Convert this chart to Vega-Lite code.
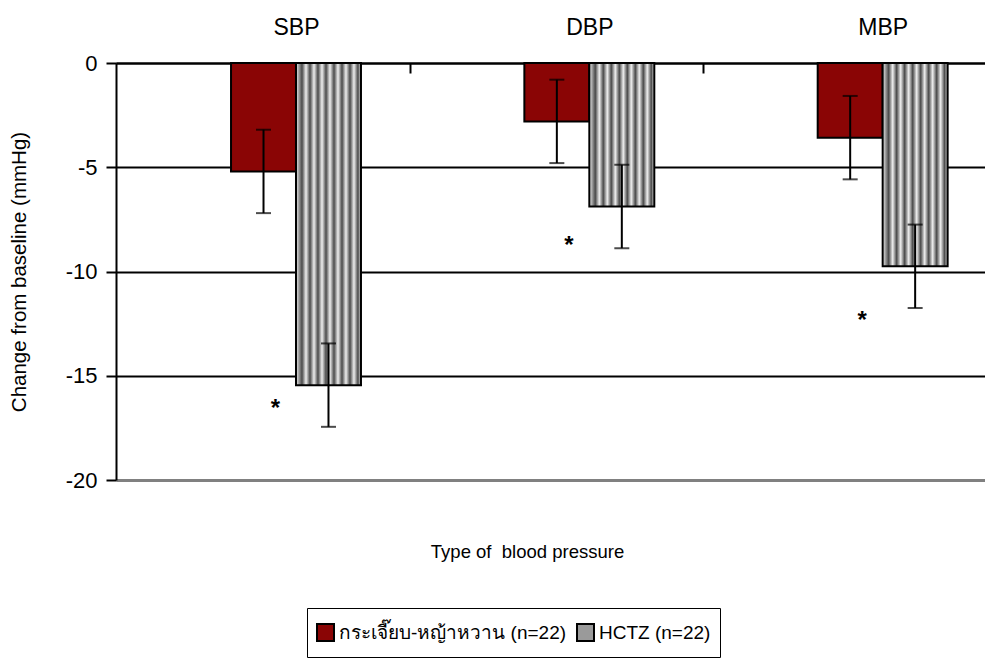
{
  "$schema": "https://vega.github.io/schema/vega-lite/v6.json",
  "width": 869,
  "height": 417,
  "autosize": {"type": "none"},
  "padding": {"left": 116, "top": 63, "right": 0, "bottom": 180},
  "background": "white",
  "config": {"font": "Liberation Sans, sans-serif", "view": {"stroke": null}},
  "datasets": {
    "bars": [
      {"bp": "SBP", "grp": "กระเจี๊ยบ-หญ้าหวาน (n=22)", "mean": -5.2, "lo": -7.2, "hi": -3.2},
      {"bp": "SBP", "grp": "HCTZ (n=22)", "mean": -15.45, "lo": -17.45, "hi": -13.45},
      {"bp": "DBP", "grp": "กระเจี๊ยบ-หญ้าหวาน (n=22)", "mean": -2.8, "lo": -4.8, "hi": -0.8},
      {"bp": "DBP", "grp": "HCTZ (n=22)", "mean": -6.88, "lo": -8.88, "hi": -4.88},
      {"bp": "MBP", "grp": "กระเจี๊ยบ-หญ้าหวาน (n=22)", "mean": -3.58, "lo": -5.58, "hi": -1.58},
      {"bp": "MBP", "grp": "HCTZ (n=22)", "mean": -9.75, "lo": -11.75, "hi": -7.75}
    ],
    "stars": [
      {"bp": "SBP", "grp": "กระเจี๊ยบ-หญ้าหวาน (n=22)", "sy": -16.95},
      {"bp": "DBP", "grp": "กระเจี๊ยบ-หญ้าหวาน (n=22)", "sy": -9.1},
      {"bp": "MBP", "grp": "กระเจี๊ยบ-หญ้าหวาน (n=22)", "sy": -12.7}
    ]
  },
  "encoding": {
    "x": {
      "field": "bp", "type": "nominal", "sort": ["SBP", "DBP", "MBP"],
      "scale": {"range": [0, 880], "paddingInner": 0.557, "paddingOuter": 0.2785, "align": 0.704},
      "axis": {
        "orient": "top", "title": "Type of\u00a0 blood pressure",
        "titleX": 411, "titleY": 488, "titleAlign": "center", "titleBaseline": "middle",
        "titleFontSize": 18.5, "titleFontWeight": "normal", "titleColor": "black",
        "labelAngle": 0, "labelFontSize": 23, "labelColor": "black", "labelPadding": 34,
        "bandPosition": 0, "tickOffset": 179, "labelOffset": -179,
        "domain": true, "domainColor": "black", "domainWidth": 2,
        "ticks": true, "tickSize": -10, "tickColor": "black", "tickWidth": 2
      }
    },
    "xOffset": {
      "field": "grp", "type": "nominal",
      "scale": {"domain": ["กระเจี๊ยบ-หญ้าหวาน (n=22)", "HCTZ (n=22)"], "paddingInner": 0, "paddingOuter": 0}
    }
  },
  "layer": [
    {
      "data": {"name": "bars"},
      "mark": {"type": "bar", "stroke": "black", "strokeWidth": 2},
      "encoding": {
        "y": {
          "field": "mean", "type": "quantitative", "title": "Change from baseline (mmHg)",
          "scale": {"domain": [-20, 0], "nice": false, "zero": true},
          "axis": {
            "values": [0, -5, -10, -15, -20],
            "labelExpr": "'' + datum.value",
            "titleFontSize": 20.5, "titleFontWeight": "normal", "titleColor": "black", "titlePadding": 36,
            "labelFontSize": 22, "labelColor": "black", "labelPadding": 9,
            "grid": true,
            "gridColor": {"condition": {"test": "datum.value === -20", "value": "#808080"}, "value": "black"},
            "gridWidth": {"condition": {"test": "datum.value === -20", "value": 3}, "value": 2},
            "domainColor": "black", "domainWidth": 2,
            "tickColor": "black", "tickWidth": 2, "tickSize": 10
          }
        },
        "fill": {
          "field": "grp", "type": "nominal",
          "condition": {
            "test": "datum.grp === 'HCTZ (n=22)'",
            "value": {
              "gradient": "linear", "x1": 0, "y1": 0, "x2": 1, "y2": 0,
              "stops": [
                {"offset": 0, "color": "#eeeeee"},
                {"offset": 0.092, "color": "#4a4a4a"},
                {"offset": 0.154, "color": "#eeeeee"},
                {"offset": 0.215, "color": "#4a4a4a"},
                {"offset": 0.277, "color": "#eeeeee"},
                {"offset": 0.338, "color": "#4a4a4a"},
                {"offset": 0.4, "color": "#eeeeee"},
                {"offset": 0.462, "color": "#4a4a4a"},
                {"offset": 0.523, "color": "#eeeeee"},
                {"offset": 0.585, "color": "#4a4a4a"},
                {"offset": 0.646, "color": "#eeeeee"},
                {"offset": 0.708, "color": "#4a4a4a"},
                {"offset": 0.769, "color": "#eeeeee"},
                {"offset": 0.831, "color": "#4a4a4a"},
                {"offset": 0.892, "color": "#eeeeee"},
                {"offset": 0.954, "color": "#4a4a4a"},
                {"offset": 1, "color": "#eeeeee"}
              ]
            }
          },
          "scale": {"domain": ["กระเจี๊ยบ-หญ้าหวาน (n=22)", "HCTZ (n=22)"], "range": ["#8a0505", "#9a9a9a"]},
          "legend": {
            "orient": "none", "legendX": 191, "legendY": 545, "direction": "horizontal", "title": null,
            "strokeColor": "black", "padding": 9, "clipHeight": 31, "labelLimit": 400,
            "symbolType": "square", "symbolSize": 289, "symbolStrokeColor": "black", "symbolStrokeWidth": 2,
            "symbolOpacity": 1, "labelFontSize": 19, "labelColor": "black", "labelOffset": 4, "columnPadding": 9
          }
        }
      }
    },
    {
      "data": {"name": "bars"},
      "mark": {"type": "rule", "color": "black", "strokeWidth": 2},
      "encoding": {
        "y": {"field": "lo", "type": "quantitative", "title": "Change from baseline (mmHg)"},
        "y2": {"field": "hi"}
      }
    },
    {
      "data": {"name": "bars"},
      "mark": {"type": "tick", "color": "black", "size": 15, "thickness": 2, "orient": "horizontal"},
      "encoding": {
        "y": {"field": "lo", "type": "quantitative", "title": "Change from baseline (mmHg)"}
      }
    },
    {
      "data": {"name": "bars"},
      "mark": {"type": "tick", "color": "black", "size": 15, "thickness": 2, "orient": "horizontal"},
      "encoding": {
        "y": {"field": "hi", "type": "quantitative", "title": "Change from baseline (mmHg)"}
      }
    },
    {
      "data": {"name": "stars"},
      "mark": {"type": "text", "text": "*", "fontSize": 24, "fontWeight": "bold", "color": "black", "baseline": "alphabetic", "align": "center", "dx": 12},
      "encoding": {
        "y": {"field": "sy", "type": "quantitative", "title": "Change from baseline (mmHg)"}
      }
    }
  ]
}
